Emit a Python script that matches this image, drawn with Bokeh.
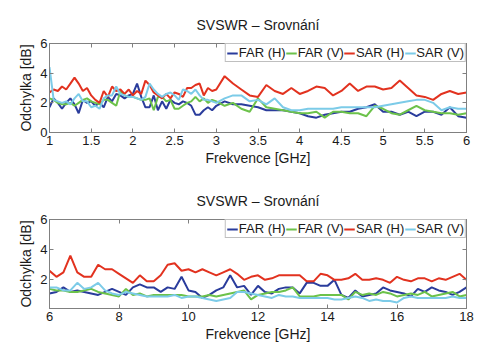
from bokeh.plotting import figure
from bokeh.models import (LinearAxis, FixedTicker, NumeralTickFormatter, Range1d, Legend,
                          LegendItem, CustomLabelingPolicy)
from bokeh.layouts import column
from bokeh.embed import file_html
from bokeh.resources import INLINE

# ---------------- data: 1 - 6 GHz ----------------
freq_top = [1.00, 1.05, 1.10, 1.15, 1.20, 1.25, 1.30, 1.35, 1.40, 1.45,
            1.50, 1.55, 1.60, 1.65, 1.70, 1.75, 1.80, 1.85, 1.90, 1.95,
            2.00, 2.05, 2.10, 2.15, 2.20, 2.25, 2.30, 2.35, 2.40, 2.45,
            2.50, 2.55, 2.60, 2.65, 2.70, 2.75, 2.80, 2.85, 2.90, 2.95,
            3.00, 3.1, 3.2, 3.3, 3.4, 3.5, 3.6, 3.7, 3.8, 3.9,
            4.0, 4.1, 4.2, 4.3, 4.4, 4.5, 4.6, 4.7, 4.8, 4.9,
            5.0, 5.1, 5.2, 5.3, 5.4, 5.5, 5.6, 5.7, 5.8, 5.9, 6.0]
far_h_top = [1.7, 2.3, 2.0, 1.6, 2.0, 2.3, 1.9, 1.3, 2.2, 2.0,
             2.1, 1.8, 2.0, 1.7, 2.4, 2.1, 2.6, 2.5, 2.3, 2.5,
             2.6, 3.3, 2.4, 1.7, 1.7, 2.5, 1.5, 2.1, 1.6, 2.2,
             2.0, 1.9, 2.1, 2.0, 1.8, 1.2, 1.2, 1.5, 1.7, 1.5,
             1.8, 2.1, 1.9, 1.9, 1.8, 1.7, 1.5, 1.5, 1.5, 1.4,
             1.3, 1.1, 1.0, 1.2, 1.3, 1.4, 1.4, 1.6, 1.7, 1.9,
             1.4, 1.4, 1.2, 1.4, 1.1, 1.4, 1.4, 1.2, 1.7, 1.1, 1.0]
far_v_top = [2.3, 2.2, 2.0, 1.9, 1.9, 2.0, 1.8, 2.0, 2.2, 2.3,
             2.1, 2.0, 1.9, 2.2, 2.2, 2.0, 1.8, 2.8, 2.5, 2.4,
             2.4, 2.3, 2.2, 2.2, 2.3, 1.5, 2.4, 2.4, 2.1, 2.2,
             1.6, 1.6, 1.8, 2.0, 2.1, 2.4, 2.1, 2.3, 2.0, 2.2,
             2.1, 1.8, 2.0, 1.6, 1.4, 2.3, 1.7, 1.6, 1.5, 1.4,
             1.3, 1.3, 1.4, 1.0, 1.4, 1.4, 1.3, 1.3, 1.1, 1.8,
             1.6, 1.3, 1.2, 1.5, 1.8, 1.5, 1.4, 1.3, 1.3, 1.2, 1.3]
sar_h_top = [2.7, 2.9, 2.8, 3.1, 2.9, 3.3, 3.7, 3.3, 2.8, 3.0,
             2.5, 2.2, 2.0, 2.8, 2.4, 3.1, 2.8, 2.9, 2.6, 2.9,
             2.5, 2.8, 2.6, 3.5, 3.2, 2.7, 2.5, 2.3, 2.6, 2.3,
             2.7, 2.6, 2.4, 3.0, 3.0, 3.2, 3.3, 2.5, 3.0, 2.8,
             2.9, 3.8, 3.3, 2.9, 2.5, 2.4, 3.2, 2.8, 2.6, 3.0,
             2.6, 2.8, 3.1, 3.0, 2.5, 2.8, 3.3, 2.8, 3.1, 3.1,
             2.9, 3.0, 3.5, 3.0, 2.5, 2.4, 2.2, 2.6, 2.8, 2.6, 2.7]
sar_v_top = [4.4, 2.2, 2.1, 2.0, 2.1, 1.9, 2.3, 2.6, 2.1, 2.1,
             1.7, 1.8, 1.6, 2.3, 2.5, 2.5, 3.1, 2.6, 2.5, 2.4,
             2.4, 2.3, 2.2, 2.4, 3.3, 2.9, 2.6, 2.4, 2.6, 2.7,
             2.5, 2.2, 2.9, 2.8, 2.6, 2.9, 2.5, 2.2, 2.2, 2.1,
             2.0, 2.3, 2.5, 2.5, 2.1, 2.2, 1.9, 2.3, 1.7, 1.5,
             1.5, 1.6, 1.6, 1.6, 1.6, 1.7, 1.7, 1.7, 1.7, 1.7,
             1.8, 1.9, 2.0, 2.1, 2.2, 2.2, 2.0, 1.5, 1.7, 1.6, 1.6]

# ---------------- data: 6 - 18 GHz ----------------
freq_bot = [6.0, 6.2, 6.4, 6.6, 6.8, 7.0, 7.2, 7.4, 7.6, 7.8,
            8.0, 8.2, 8.4, 8.6, 8.8, 9.0, 9.2, 9.4, 9.6, 9.8,
            10.0, 10.2, 10.4, 10.6, 10.8, 11.0, 11.2, 11.4, 11.6, 11.8,
            12.0, 12.2, 12.4, 12.6, 12.8, 13.0, 13.2, 13.4, 13.6, 13.8,
            14.0, 14.2, 14.4, 14.6, 14.8, 15.0, 15.2, 15.4, 15.6, 15.8,
            16.0, 16.2, 16.4, 16.6, 16.8, 17.0, 17.2, 17.4, 17.6, 17.8, 18.0]
far_h_bot = [1.1, 1.2, 1.5, 1.2, 1.3, 1.2, 1.1, 1.0, 1.2, 1.4,
             1.2, 1.0, 1.5, 1.7, 1.5, 1.5, 1.2, 1.5, 1.4, 2.2,
             1.3, 1.2, 0.8, 1.0, 1.3, 1.5, 2.3, 1.5, 1.6, 1.0,
             1.6, 1.2, 1.1, 1.4, 1.5, 1.5, 1.1, 1.8, 1.8, 1.6,
             1.6, 2.0, 1.0, 0.8, 1.3, 0.9, 1.0, 1.1, 1.5, 1.3,
             1.2, 1.1, 0.9, 1.4, 1.2, 1.5, 1.3, 1.2, 1.0, 1.2, 1.5]
far_v_bot = [1.4, 1.3, 1.3, 1.2, 1.2, 1.3, 1.4, 1.2, 1.1, 1.0,
             0.9, 1.4, 1.0, 1.1, 0.9, 1.0, 1.0, 1.0, 1.0, 1.0,
             0.9, 0.9, 0.9, 1.0, 0.9, 1.0, 1.1, 1.2, 1.3, 0.7,
             1.0, 1.1, 1.2, 1.2, 1.3, 1.5, 0.9, 0.9, 0.9, 1.0,
             1.0, 1.0, 1.0, 0.7, 1.2, 1.0, 1.1, 1.0, 1.2, 1.1,
             0.9, 1.0, 1.1, 1.0, 1.2, 0.9, 1.0, 1.1, 1.2, 0.9, 1.0]
sar_h_bot = [2.6, 2.2, 2.5, 3.6, 2.5, 2.2, 2.2, 3.0, 2.7, 2.7,
             2.4, 2.1, 1.8, 2.3, 1.9, 1.9, 2.3, 3.0, 3.1, 2.6,
             2.7, 2.5, 2.7, 2.5, 2.3, 2.5, 2.7, 2.4, 2.0, 2.2,
             2.3, 2.0, 2.1, 2.3, 2.3, 2.3, 2.3, 1.9, 1.9, 2.4,
             2.3, 2.0, 2.0, 2.1, 2.4, 2.0, 2.0, 2.1, 2.0, 1.8,
             2.2, 2.0, 1.9, 2.1, 2.1, 1.9, 2.1, 2.0, 2.2, 2.4, 2.0]
sar_v_bot = [1.5, 1.5, 1.3, 1.3, 1.8, 1.4, 1.5, 1.8, 1.3, 1.1,
             1.0, 1.2, 1.1, 1.0, 0.9, 0.9, 0.9, 0.9, 1.0, 0.8,
             0.9, 0.9, 0.8, 0.7, 0.6, 0.7, 0.8, 1.2, 1.2, 1.1,
             1.0, 0.9, 0.8, 1.0, 0.9, 0.9, 0.8, 0.8, 0.8, 0.8,
             0.8, 0.7, 0.7, 0.8, 0.9, 0.8, 0.6, 0.7, 0.6, 0.6,
             0.5, 0.8, 0.9, 0.8, 0.8, 0.8, 0.8, 0.8, 0.9, 0.8, 0.8]

series_names = ["FAR (H)", "FAR (V)", "SAR (H)", "SAR (V)"]
series_colors = ["#2a3c9c", "#6cc24a", "#e2321f", "#7ccbe8"]

x_ticks_top = [1, 1.5, 2, 2.5, 3, 3.5, 4, 4.5, 5, 5.5, 6]
x_ticks_bot = [6, 8, 10, 12, 14, 16, 18]
y_ticks_top = [0, 2, 4, 6]
y_ticks_bot = [2, 4, 6]

title_text = "SVSWR – Srovnání"
x_label = "Frekvence [GHz]"
y_label = "Odchylka [dB]"

FONT = "Liberation Sans"
TXT = "#1a1a1a"
GREY = "#808080"

HIDE_ALL = CustomLabelingPolicy(code="""
for (const i of indices) { indices.unset(i) }
return indices
""")


def make_plot(freq, series, xr, yr, xt, yt):
    p = figure(width=496, height=176, output_backend="svg", toolbar_location=None,
               x_range=Range1d(*xr), y_range=Range1d(*yr),
               min_border_left=49, min_border_right=30, min_border_top=43, min_border_bottom=44)
    p.background_fill_color = "white"
    p.border_fill_color = "white"
    p.outline_line_color = GREY
    p.outline_line_width = 1
    p.xgrid.visible = False
    p.ygrid.visible = False

    p.title.text = title_text
    p.title.align = "center"
    p.title.text_font = FONT
    p.title.text_font_size = "14px"
    p.title.text_font_style = "normal"
    p.title.text_color = TXT
    p.title.standoff = 13

    items = []
    for name, color, ys in zip(series_names, series_colors, series):
        r = p.line(freq, ys, line_color=color, line_width=2)
        items.append(LegendItem(label=name, renderers=[r]))

    # main axes
    for ax, ticks in ((p.xaxis[0], xt), (p.yaxis[0], yt)):
        ax.ticker = FixedTicker(ticks=ticks)
        ax.formatter = NumeralTickFormatter(format="0.[0]")
        ax.major_tick_in = 4
        ax.major_tick_out = 0
        ax.minor_tick_line_color = None
        ax.axis_line_color = GREY
        ax.major_tick_line_color = GREY
        ax.major_label_text_font = FONT
        ax.major_label_text_font_size = "13px"
        ax.major_label_text_color = TXT
        ax.axis_label_text_font = FONT
        ax.axis_label_text_font_size = "14px"
        ax.axis_label_text_font_style = "normal"
        ax.axis_label_text_color = TXT
    p.xaxis[0].axis_label = x_label
    p.yaxis[0].axis_label = y_label
    p.xaxis[0].major_label_standoff = 3
    p.xaxis[0].axis_label_standoff = 2
    p.yaxis[0].major_label_standoff = 2
    p.yaxis[0].axis_label_standoff = 3

    # mirrored ticks (box style), no labels
    for loc, ticks in (("right", yt), ("above", xt)):
        ax = LinearAxis(ticker=FixedTicker(ticks=ticks))
        ax.major_label_policy = HIDE_ALL
        ax.major_tick_in = 4
        ax.major_tick_out = 0
        ax.minor_tick_line_color = None
        ax.axis_line_color = GREY
        ax.major_tick_line_color = GREY
        ax.major_label_text_font_size = "1px"
        ax.major_label_standoff = 0
        p.add_layout(ax, loc)

    legend = Legend(items=items, orientation="horizontal", location="top_right")
    legend.margin = 0
    legend.padding = 1
    legend.spacing = 0
    legend.glyph_width = 11
    legend.glyph_height = 14
    legend.label_standoff = 1
    legend.label_text_font = FONT
    legend.label_text_font_size = "13px"
    legend.label_text_color = TXT
    legend.label_height = 14
    legend.border_line_color = GREY
    legend.border_line_width = 1
    legend.background_fill_alpha = 1
    p.add_layout(legend, "center")
    return p


p1 = make_plot(freq_top, [far_h_top, far_v_top, sar_h_top, sar_v_top], (1, 6), (0, 6), x_ticks_top, y_ticks_top)
p2 = make_plot(freq_bot, [far_h_bot, far_v_bot, sar_h_bot, sar_v_bot], (6, 18), (0.1, 6), x_ticks_bot, y_ticks_bot)

layout = column(p1, p2, spacing=0)
open("out.html", "w").write(file_html(layout, INLINE))
